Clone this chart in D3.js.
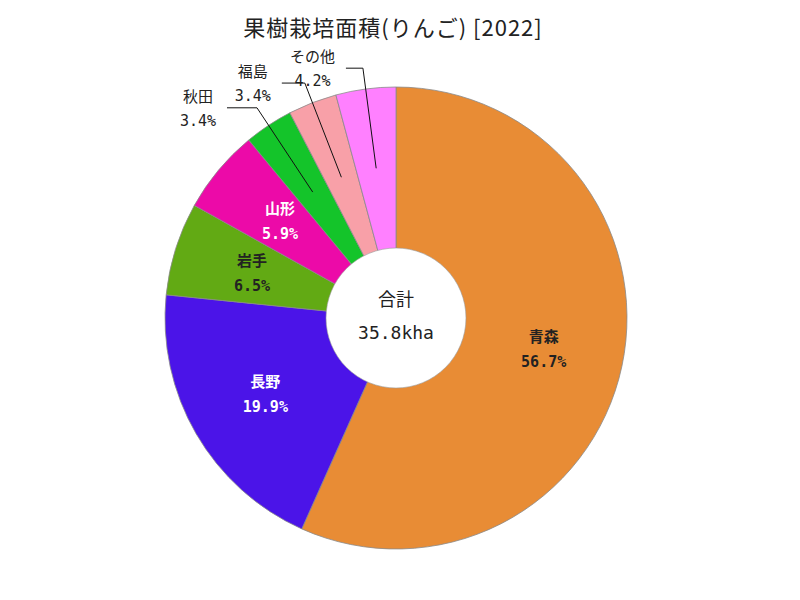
<!DOCTYPE html>
<html><head><meta charset="utf-8">
<script src="https://cdn.jsdelivr.net/npm/d3@7"></script>
<style>body{margin:0;background:#fff}</style>
</head><body>
<svg id="c" width="800" height="600"></svg>
<script>
const title = "果樹栽培面積(りんご) [2022]";
const categories = ["青森","長野","岩手","山形","秋田","福島","その他"];
const values = [20300, 7130, 2330, 2110, 1220, 1220, 1500]; // ha
const colors = ["#e88c35","#4b14e8","#62aa14","#ec0aa8","#14c42a","#f8a0a8","#ff80ff"];
const textColors = ["#222","#fff","#222","#fff","#222","#222","#222"];
const outside = [false,false,false,false,true,true,true];
const totalLabel = "合計";
const totalText = "35.8kha";

const svg = d3.select("#c");
const cx = 396, cy = 318, R = 231, r0 = 70;
const mono = "'DejaVu Sans Mono','Noto Sans CJK JP',monospace";

svg.append("text").attr("x",393).attr("y",36).attr("text-anchor","middle")
  .attr("font-family","'Noto Sans CJK JP',sans-serif").attr("font-size",22)
  .attr("letter-spacing",1).attr("fill","#222")
  .text(title);

const data = categories.map((c,i)=>({name:c, value:values[i], i}));
const total = d3.sum(values);
const pie = d3.pie().value(d=>d.value).sort(null);
const arcs = pie(data);
const arc = d3.arc().innerRadius(0).outerRadius(R);
const g = svg.append("g").attr("transform",`translate(${cx},${cy})`);

g.selectAll("path").data(arcs).join("path")
  .attr("d",arc).attr("fill",d=>colors[d.data.i])
  .attr("stroke","#8a8a8a").attr("stroke-width",0.8);

g.append("circle").attr("r",r0).attr("fill","#fff").attr("stroke","#999").attr("stroke-width",0.6);

const fmt = d=>(d.value/total*100).toFixed(1)+"%";
const midR = 151;
const pt = (a,rr)=>[Math.sin(a)*rr, -Math.cos(a)*rr];

arcs.forEach(d=>{
  const a = (d.startAngle+d.endAngle)/2;
  const [x,y] = pt(a, midR);
  if(!outside[d.data.i]){
    const t = g.append("text").attr("text-anchor","middle")
      .attr("font-family",mono).attr("font-weight","bold").attr("font-size",15)
      .attr("fill",textColors[d.data.i]);
    t.append("tspan").attr("x",x).attr("y",y-7).text(d.data.name);
    t.append("tspan").attr("x",x).attr("y",y+18).text(fmt(d));
  }
});

// outside labels
const hlen = {4:30, 5:23, 6:17};
arcs.filter(d=>outside[d.data.i]).forEach(d=>{
  const a = (d.startAngle+d.endAngle)/2;
  const [x1,y1] = pt(a, midR);
  const [x2,y2] = pt(a, 252);
  const x3 = x2 - hlen[d.data.i];
  g.append("polyline").attr("points",`${x1},${y1} ${x2},${y2} ${x3},${y2}`)
    .attr("fill","none").attr("stroke","#111").attr("stroke-width",1);
  const t = g.append("text").attr("text-anchor","middle")
    .attr("font-family",mono).attr("font-size",15).attr("fill","#222");
  const n1 = t.append("tspan").attr("y",y2-6).text(d.data.name);
  const n2 = t.append("tspan").attr("y",y2+18).text(fmt(d));
  const w = Math.max(n1.node().getComputedTextLength(), n2.node().getComputedTextLength());
  const tx = x3 - 11 - w/2;
  n1.attr("x",tx); n2.attr("x",tx);
});

const ct = g.append("text").attr("text-anchor","middle")
  .attr("font-family",mono).attr("font-size",18).attr("fill","#222");
ct.append("tspan").attr("x",0).attr("y",-12).text(totalLabel);
ct.append("tspan").attr("x",0).attr("y",21).text(totalText);
</script>
</body></html>
